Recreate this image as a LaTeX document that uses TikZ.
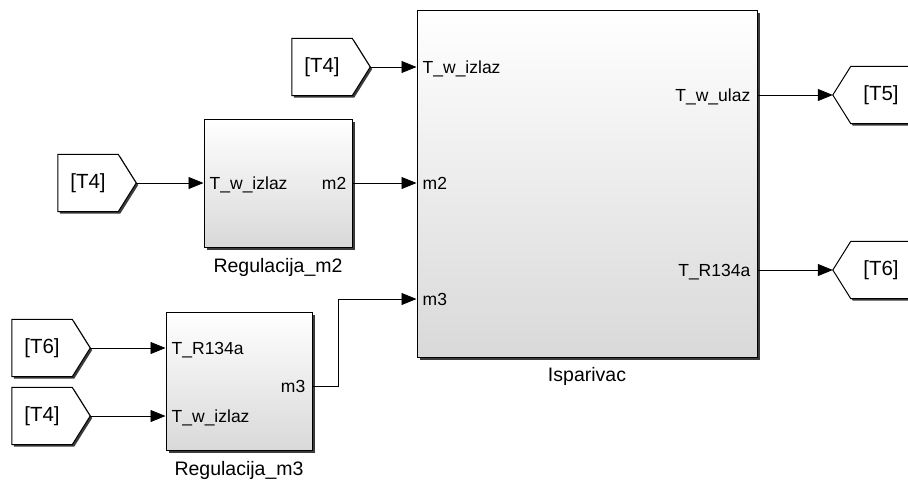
\documentclass[tikz,border=0pt]{standalone}
\usepackage{fontspec}
\setmainfont{Liberation Sans}
\usetikzlibrary{arrows.meta, shadows, backgrounds}

\newcommand{\slova}{\fontsize{17.5}{20}\selectfont}
\newcommand{\slovaime}{\fontsize{19.5}{22}\selectfont}
\newcommand{\slovatag}{\fontsize{20.5}{23}\selectfont}

\tikzset{
  blok/.style={draw=black, line width=1pt, top color=white, bottom color=gray!30,
    drop shadow={shadow xshift=2.5pt, shadow yshift=-2.5pt, fill=black!85, opacity=0.9}},
  oznaka/.style={font=\slova, inner sep=0pt},
  ime/.style={font=\slovaime, inner sep=0pt, anchor=north},
  tag/.style={font=\slovatag, inner sep=0pt, minimum width=60pt, minimum height=57pt},
  tagrub/.style={draw=black, line width=1pt, fill=white,
    drop shadow={shadow xshift=2pt, shadow yshift=-2pt, fill=black!85, opacity=0.9}},
  veza/.style={line width=0.8pt, ->}
}

\begin{document}
\begin{tikzpicture}[x=1pt, y=-1pt, >={Triangle[length=15pt, width=12pt]}]
    % 1. Okvir slike
    \useasboundingbox (0,0) rectangle (908,480);

    % 2. Blokovi
    \node[blok, minimum width=340pt, minimum height=347pt] (isp) at (587,183.5) {};
    \node[blok, minimum width=148pt, minimum height=128pt] (reg2) at (278,183) {};
    \node[blok, minimum width=146pt, minimum height=138pt] (reg3) at (239,381) {};

    % Nazivi ispod blokova
    \node[ime] (isp-ime) at ([yshift=-10pt]isp.south) {Isparivac};
    \node[ime] (reg2-ime) at ([yshift=-10.5pt]reg2.south) {Regulacija\_m2};
    \node[ime] (reg3-ime) at ([yshift=-10.5pt]reg3.south) {Regulacija\_m3};

    % 3. From / Goto oznake
    \node[tag] (f1) at (322,67) {[T4]};
    \node[tag] (f2) at (88,183) {[T4]};
    \node[tag] (f3) at (42,348) {[T6]};
    \node[tag] (f4) at (42,416) {[T4]};
    \node[tag] (g5) at (881,95) {[T5]};
    \node[tag] (g6) at (881,270) {[T6]};

    \begin{scope}[on background layer]
        \foreach \t in {f1,f2,f3,f4}
            \draw[tagrub] (\t.north west) -- (\t.north east) -- ([xshift=18pt]\t.east)
                -- (\t.south east) -- (\t.south west) -- cycle;
        \foreach \t in {g5,g6}
            \draw[tagrub] (\t.north east) -- (\t.north west) -- ([xshift=-18pt]\t.west)
                -- (\t.south west) -- (\t.south east) -- cycle;
    \end{scope}

    % 4. Ulazi i izlazi (oznake portova)
    \node[oznaka, anchor=base west] (isp-p1) at ([xshift=6pt, yshift=-6pt]isp.west |- f1) {T\_w\_izlaz};
    \node[oznaka, anchor=base west] (isp-p2) at ([xshift=6pt, yshift=-6pt]isp.west |- reg2) {m2};
    \coordinate (isp-m3) at (isp.west |- 0,299);
    \node[oznaka, anchor=base west] (isp-p3) at ([xshift=6pt, yshift=-6pt]isp-m3) {m3};
    \node[oznaka, anchor=base east] (isp-o1) at ([xshift=-7pt, yshift=-6pt]isp.east |- g5) {T\_w\_ulaz};
    \node[oznaka, anchor=base east] (isp-o2) at ([xshift=-7pt, yshift=-6pt]isp.east |- g6) {T\_R134a};

    \node[oznaka, anchor=base west] (reg2-p1) at ([xshift=6pt, yshift=-6pt]reg2.west) {T\_w\_izlaz};
    \node[oznaka, anchor=base east] (reg2-o1) at ([xshift=-6pt, yshift=-6pt]reg2.east) {m2};

    \node[oznaka, anchor=base west] (reg3-p1) at ([xshift=6pt, yshift=-6pt]reg3.west |- f3) {T\_R134a};
    \node[oznaka, anchor=base west] (reg3-p2) at ([xshift=6pt, yshift=-6pt]reg3.west |- f4) {T\_w\_izlaz};
    \coordinate (reg3-m3) at (reg3.east |- 0,386);
    \node[oznaka, anchor=base east] (reg3-o1) at ([xshift=-7pt, yshift=-6pt]reg3-m3) {m3};

    % 5. Veze
    \draw[veza] ([xshift=18pt]f1.east) -- (isp.west |- f1.east);
    \draw[veza] ([xshift=18pt]f2.east) -- (reg2.west);
    \draw[veza] ([xshift=18pt]f3.east) -- (reg3.west |- f3.east);
    \draw[veza] ([xshift=18pt]f4.east) -- (reg3.west |- f4.east);
    \draw[veza] (reg2.east) -- (isp.west |- reg2.east);
    \draw[veza] (reg3-m3) -- ++(26,0) |- (isp-m3);
    \draw[veza] (isp.east |- g5) -- ([xshift=-18pt]g5.west);
    \draw[veza] (isp.east |- g6) -- ([xshift=-18pt]g6.west);
\end{tikzpicture}
\end{document}
